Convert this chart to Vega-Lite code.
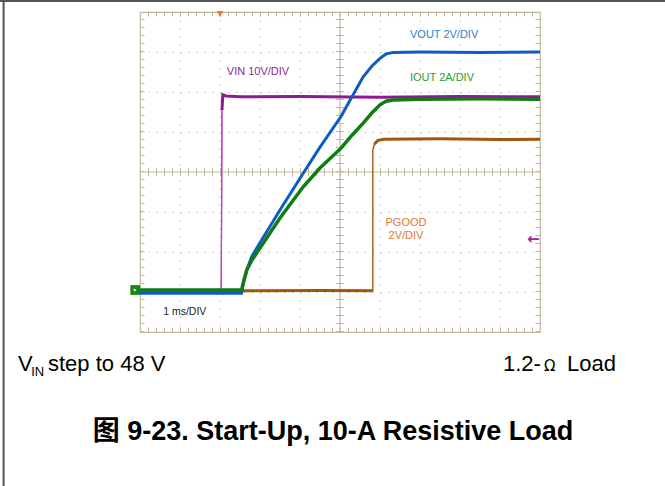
{
  "$schema": "https://vega.github.io/schema/vega-lite/v6.json",
  "width": 400,
  "height": 320,
  "autosize": "none",
  "padding": {"left": 140, "top": 12, "right": 125, "bottom": 154},
  "background": "white",
  "config": {
    "view": {"stroke": "#c2b99d", "strokeWidth": 1.2},
    "font": "Liberation Sans",
    "text": {"font": "Liberation Sans"}
  },
  "datasets": {
    "traces": [
      {"s": "VIN", "t": 0, "v": 1.05},
      {"s": "VIN", "t": 2.03, "v": 1.05},
      {"s": "VIN", "t": 2.04, "v": 3.0},
      {"s": "VIN", "t": 2.05, "v": 5.55},
      {"s": "VIN", "t": 2.07, "v": 5.93},
      {"s": "VIN", "t": 2.15, "v": 5.9},
      {"s": "VIN", "t": 2.5, "v": 5.88},
      {"s": "VIN", "t": 4.0, "v": 5.89},
      {"s": "VIN", "t": 6.0, "v": 5.87},
      {"s": "VIN", "t": 8.0, "v": 5.89},
      {"s": "VIN", "t": 10, "v": 5.88},
      {"s": "PGOOD", "t": 0, "v": 1.03},
      {"s": "PGOOD", "t": 3.0, "v": 1.03},
      {"s": "PGOOD", "t": 4.5, "v": 1.04},
      {"s": "PGOOD", "t": 5.82, "v": 1.03},
      {"s": "PGOOD", "t": 5.82, "v": 4.55},
      {"s": "PGOOD", "t": 5.86, "v": 4.7},
      {"s": "PGOOD", "t": 5.95, "v": 4.79},
      {"s": "PGOOD", "t": 6.1, "v": 4.82},
      {"s": "PGOOD", "t": 7.5, "v": 4.83},
      {"s": "PGOOD", "t": 9.0, "v": 4.81},
      {"s": "PGOOD", "t": 10, "v": 4.82},
      {"s": "VOUT", "t": 0, "v": 0.97},
      {"s": "VOUT", "t": 2.54, "v": 0.97},
      {"s": "VOUT", "t": 2.58, "v": 1.2},
      {"s": "VOUT", "t": 2.67, "v": 1.55},
      {"s": "VOUT", "t": 2.79, "v": 1.88},
      {"s": "VOUT", "t": 2.92, "v": 2.1},
      {"s": "VOUT", "t": 3.5, "v": 3.05},
      {"s": "VOUT", "t": 4.08, "v": 3.97},
      {"s": "VOUT", "t": 4.5, "v": 4.62},
      {"s": "VOUT", "t": 5.02, "v": 5.38},
      {"s": "VOUT", "t": 5.3, "v": 5.88},
      {"s": "VOUT", "t": 5.58, "v": 6.38},
      {"s": "VOUT", "t": 5.8, "v": 6.65},
      {"s": "VOUT", "t": 6.0, "v": 6.84},
      {"s": "VOUT", "t": 6.15, "v": 6.95},
      {"s": "VOUT", "t": 6.33, "v": 6.99},
      {"s": "VOUT", "t": 7.0, "v": 7.0},
      {"s": "VOUT", "t": 8.5, "v": 6.99},
      {"s": "VOUT", "t": 10, "v": 7.0},
      {"s": "IOUT", "t": 0, "v": 1.05},
      {"s": "IOUT", "t": 2.54, "v": 1.05},
      {"s": "IOUT", "t": 2.6, "v": 1.3},
      {"s": "IOUT", "t": 2.67, "v": 1.55},
      {"s": "IOUT", "t": 2.8, "v": 1.8},
      {"s": "IOUT", "t": 3.08, "v": 2.22},
      {"s": "IOUT", "t": 3.5, "v": 2.85},
      {"s": "IOUT", "t": 4.08, "v": 3.63},
      {"s": "IOUT", "t": 4.5, "v": 4.1},
      {"s": "IOUT", "t": 5.02, "v": 4.59},
      {"s": "IOUT", "t": 5.3, "v": 4.92},
      {"s": "IOUT", "t": 5.58, "v": 5.22},
      {"s": "IOUT", "t": 5.8, "v": 5.48},
      {"s": "IOUT", "t": 6.0, "v": 5.68},
      {"s": "IOUT", "t": 6.15, "v": 5.77},
      {"s": "IOUT", "t": 6.33, "v": 5.8},
      {"s": "IOUT", "t": 7.0, "v": 5.82},
      {"s": "IOUT", "t": 8.5, "v": 5.83},
      {"s": "IOUT", "t": 10, "v": 5.82}
    ],
    "notes": [
      {"id": "vout", "text": "VOUT 2V/DIV", "t": 6.75, "d": 7.43},
      {"id": "iout", "text": "IOUT 2A/DIV", "t": 6.75, "d": 6.34},
      {"id": "vin", "text": "VIN 10V/DIV", "t": 2.17, "d": 6.51},
      {"id": "pg", "text": "PGOOD", "t": 6.65, "d": 2.73},
      {"id": "pg", "text": "2V/DIV", "t": 6.65, "d": 2.4},
      {"id": "ms", "text": "1 ms/DIV", "t": 0.58, "d": 0.5},
      {"id": "cap", "text": "V", "t": -3.05, "d": -0.975},
      {"id": "cap", "text": "step to 48 V", "t": -2.3, "d": -0.975},
      {"id": "cap", "text": "1.2-", "t": 9.075, "d": -0.975},
      {"id": "cap", "text": "Load", "t": 10.675, "d": -0.975},
      {"id": "sub", "text": "IN", "t": -2.72, "d": -1.09},
      {"id": "ohm", "text": "Ω", "t": 10.1, "d": -0.975},
      {"id": "title", "text": "图 9-23. Start-Up, 10-A Resistive Load", "t": 4.825, "d": -2.7}
    ]
  },
  "layer": [
    {
      "data": {"name": "traces"},
      "transform": [{"filter": "datum.s === 'VIN'"}],
      "mark": {"type": "line", "color": "#c43cc4", "strokeWidth": 1.2, "clip": true},
      "encoding": {
        "x": {"field": "t", "type": "quantitative", "scale": {"domain": [0, 10]},
          "axis": {"values": [1, 2, 3, 4, 6, 7, 8, 9], "grid": true, "gridDash": [1, 7], "gridColor": "#a9a290", "gridWidth": 1,
            "domain": false, "ticks": false, "labels": false, "title": null}},
        "y": {"field": "v", "type": "quantitative", "scale": {"domain": [0, 8]},
          "axis": {"values": [1, 2, 3, 5, 6, 7], "grid": true, "gridDash": [1, 7], "gridColor": "#a9a290", "gridWidth": 1,
            "domain": false, "ticks": false, "labels": false, "title": null}}
      }
    },
    {
      "data": {"values": [{}]},
      "mark": {"type": "rule", "color": "#c2b99d", "strokeWidth": 1.2},
      "encoding": {"x": {"datum": 5, "type": "quantitative"}, "y": {"datum": 0, "type": "quantitative"}, "y2": {"datum": 8}}
    },
    {
      "data": {"values": [{}]},
      "mark": {"type": "rule", "color": "#c2b99d", "strokeWidth": 1.2},
      "encoding": {"y": {"datum": 4, "type": "quantitative"}, "x": {"datum": 0, "type": "quantitative"}, "x2": {"datum": 10}}
    },
    {
      "data": {"values": [{}]},
      "mark": {"type": "rule", "color": "#c2b99d", "strokeWidth": 8, "strokeDash": [1, 7]},
      "encoding": {"y": {"datum": 4, "type": "quantitative"}, "x": {"datum": 0, "type": "quantitative"}, "x2": {"datum": 10}}
    },
    {
      "data": {"values": [{}]},
      "mark": {"type": "rule", "color": "#c2b99d", "strokeWidth": 8, "strokeDash": [1, 7]},
      "encoding": {"x": {"datum": 5, "type": "quantitative"}, "y": {"datum": 0, "type": "quantitative"}, "y2": {"datum": 8}}
    },
    {
      "data": {"values": [{}]},
      "mark": {"type": "rule", "color": "#c2b99d", "strokeWidth": 9, "strokeDash": [1, 7], "clip": true},
      "encoding": {"y": {"datum": 0, "type": "quantitative"}, "x": {"datum": 0, "type": "quantitative"}, "x2": {"datum": 10}}
    },
    {
      "data": {"values": [{}]},
      "mark": {"type": "rule", "color": "#c2b99d", "strokeWidth": 9, "strokeDash": [1, 7], "clip": true},
      "encoding": {"y": {"datum": 8, "type": "quantitative"}, "x": {"datum": 0, "type": "quantitative"}, "x2": {"datum": 10}}
    },
    {
      "data": {"values": [{}]},
      "mark": {"type": "rule", "color": "#c2b99d", "strokeWidth": 9, "strokeDash": [1, 7], "clip": true},
      "encoding": {"x": {"datum": 0, "type": "quantitative"}, "y": {"datum": 0, "type": "quantitative"}, "y2": {"datum": 8}}
    },
    {
      "data": {"values": [{}]},
      "mark": {"type": "rule", "color": "#c2b99d", "strokeWidth": 9, "strokeDash": [1, 7], "clip": true},
      "encoding": {"x": {"datum": 10, "type": "quantitative"}, "y": {"datum": 0, "type": "quantitative"}, "y2": {"datum": 8}}
    },
    {
      "data": {"name": "traces"},
      "transform": [{"filter": "datum.s === 'VIN'"}],
      "mark": {"type": "line", "color": "#c43cc4", "strokeWidth": 1.2, "clip": true},
      "encoding": {"x": {"field": "t", "type": "quantitative"}, "y": {"field": "v", "type": "quantitative"}}
    },
    {
      "data": {"name": "traces"},
      "transform": [{"filter": "datum.s === 'VIN' && datum.t >= 2.05"}],
      "mark": {"type": "line", "color": "#8e1a92", "strokeWidth": 3, "clip": true},
      "encoding": {"x": {"field": "t", "type": "quantitative"}, "y": {"field": "v", "type": "quantitative"}}
    },
    {
      "data": {"name": "traces"},
      "transform": [{"filter": "datum.s === 'PGOOD'"}],
      "mark": {"type": "line", "color": "#a8641e", "strokeWidth": 1.5, "clip": true},
      "encoding": {"x": {"field": "t", "type": "quantitative"}, "y": {"field": "v", "type": "quantitative"}}
    },
    {
      "data": {"name": "traces"},
      "transform": [{"filter": "datum.s === 'PGOOD' && datum.v < 2"}],
      "mark": {"type": "line", "color": "#a0560f", "strokeWidth": 3, "clip": true},
      "encoding": {"x": {"field": "t", "type": "quantitative"}, "y": {"field": "v", "type": "quantitative"}}
    },
    {
      "data": {"name": "traces"},
      "transform": [{"filter": "datum.s === 'PGOOD' && datum.t >= 5.86"}],
      "mark": {"type": "line", "color": "#a0560f", "strokeWidth": 3, "clip": true},
      "encoding": {"x": {"field": "t", "type": "quantitative"}, "y": {"field": "v", "type": "quantitative"}}
    },
    {
      "data": {"name": "traces"},
      "transform": [{"filter": "datum.s === 'VOUT'"}],
      "mark": {"type": "line", "color": "#0d5cc4", "strokeWidth": 3, "clip": true},
      "encoding": {"x": {"field": "t", "type": "quantitative"}, "y": {"field": "v", "type": "quantitative"}}
    },
    {
      "data": {"name": "traces"},
      "transform": [{"filter": "datum.s === 'IOUT'"}],
      "mark": {"type": "line", "color": "#0f7d12", "strokeWidth": 3.5, "clip": true},
      "encoding": {"x": {"field": "t", "type": "quantitative"}, "y": {"field": "v", "type": "quantitative"}}
    },
    {
      "data": {"values": [{}]},
      "mark": {"type": "point", "shape": "triangle-down", "filled": true, "color": "#f07a22", "size": 45, "opacity": 1},
      "encoding": {"x": {"datum": 2.0, "type": "quantitative"}, "y": {"datum": 7.95, "type": "quantitative"}}
    },
    {
      "data": {"values": [{}]},
      "mark": {"type": "square", "color": "#148a14", "size": 95, "opacity": 1},
      "encoding": {"x": {"datum": -0.12, "type": "quantitative"}, "y": {"datum": 1.05, "type": "quantitative"}}
    },
    {
      "data": {"values": [{}]},
      "mark": {"type": "point", "shape": "triangle-right", "filled": true, "color": "#ffffff", "size": 10, "opacity": 1},
      "encoding": {"x": {"datum": -0.12, "type": "quantitative"}, "y": {"datum": 1.05, "type": "quantitative"}}
    },
    {
      "data": {"values": [{}]},
      "mark": {"type": "text", "text": "←", "color": "#a020a0", "fontSize": 15, "fontWeight": "bold", "font": "DejaVu Sans"},
      "encoding": {"x": {"datum": 9.83, "type": "quantitative"}, "y": {"datum": 2.33, "type": "quantitative"}}
    },
    {
      "data": {"name": "notes"},
      "transform": [{"filter": "datum.id === 'vout'"}],
      "mark": {"type": "text", "align": "left", "baseline": "middle", "fontSize": 11, "color": "#2a7fd4"},
      "encoding": {"x": {"field": "t", "type": "quantitative"}, "y": {"field": "d", "type": "quantitative"}, "text": {"field": "text"}}
    },
    {
      "data": {"name": "notes"},
      "transform": [{"filter": "datum.id === 'iout'"}],
      "mark": {"type": "text", "align": "left", "baseline": "middle", "fontSize": 11, "color": "#2e9a2e"},
      "encoding": {"x": {"field": "t", "type": "quantitative"}, "y": {"field": "d", "type": "quantitative"}, "text": {"field": "text"}}
    },
    {
      "data": {"name": "notes"},
      "transform": [{"filter": "datum.id === 'vin'"}],
      "mark": {"type": "text", "align": "left", "baseline": "middle", "fontSize": 11, "color": "#8b2a8b"},
      "encoding": {"x": {"field": "t", "type": "quantitative"}, "y": {"field": "d", "type": "quantitative"}, "text": {"field": "text"}}
    },
    {
      "data": {"name": "notes"},
      "transform": [{"filter": "datum.id === 'pg'"}],
      "mark": {"type": "text", "align": "center", "baseline": "middle", "fontSize": 11, "color": "#e07b30"},
      "encoding": {"x": {"field": "t", "type": "quantitative"}, "y": {"field": "d", "type": "quantitative"}, "text": {"field": "text"}}
    },
    {
      "data": {"name": "notes"},
      "transform": [{"filter": "datum.id === 'ms'"}],
      "mark": {"type": "text", "align": "left", "baseline": "middle", "fontSize": 10.5, "color": "#222222"},
      "encoding": {"x": {"field": "t", "type": "quantitative"}, "y": {"field": "d", "type": "quantitative"}, "text": {"field": "text"}}
    },
    {
      "data": {"name": "notes"},
      "transform": [{"filter": "datum.id === 'cap'"}],
      "mark": {"type": "text", "align": "left", "baseline": "alphabetic", "fontSize": 22, "color": "#000000"},
      "encoding": {"x": {"field": "t", "type": "quantitative"}, "y": {"field": "d", "type": "quantitative"}, "text": {"field": "text"}}
    },
    {
      "data": {"name": "notes"},
      "transform": [{"filter": "datum.id === 'sub'"}],
      "mark": {"type": "text", "align": "left", "baseline": "alphabetic", "fontSize": 13, "color": "#000000"},
      "encoding": {"x": {"field": "t", "type": "quantitative"}, "y": {"field": "d", "type": "quantitative"}, "text": {"field": "text"}}
    },
    {
      "data": {"name": "notes"},
      "transform": [{"filter": "datum.id === 'ohm'"}],
      "mark": {"type": "text", "align": "left", "baseline": "alphabetic", "fontSize": 15, "font": "DejaVu Sans", "color": "#000000"},
      "encoding": {"x": {"field": "t", "type": "quantitative"}, "y": {"field": "d", "type": "quantitative"}, "text": {"field": "text"}}
    },
    {
      "data": {"name": "notes"},
      "transform": [{"filter": "datum.id === 'title'"}],
      "mark": {"type": "text", "align": "center", "baseline": "alphabetic", "fontSize": 27, "fontWeight": "bold", "font": "Liberation Sans, Noto Sans CJK SC", "color": "#000000"},
      "encoding": {"x": {"field": "t", "type": "quantitative"}, "y": {"field": "d", "type": "quantitative"}, "text": {"field": "text"}}
    },
    {
      "data": {"values": [{}]},
      "mark": {"type": "rule", "color": "#555555", "strokeWidth": 2.5},
      "encoding": {"x": {"datum": -3.6, "type": "quantitative"}, "x2": {"datum": 13.2}, "y": {"datum": 8.28, "type": "quantitative"}}
    },
    {
      "data": {"values": [{}]},
      "mark": {"type": "rule", "color": "#555555", "strokeWidth": 2},
      "encoding": {"x": {"datum": -3.41, "type": "quantitative"}, "y": {"datum": -3.9, "type": "quantitative"}, "y2": {"datum": 8.3}}
    }
  ]
}
